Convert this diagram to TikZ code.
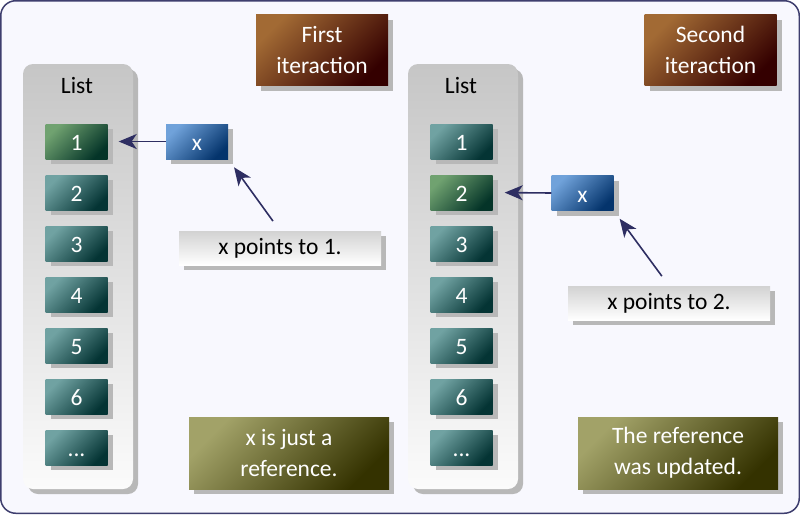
\documentclass[tikz,border=0pt]{standalone}
\usepackage{fontspec}
\setmainfont{Carlito}
\usetikzlibrary{arrows.meta,shadows}
\definecolor{bgcol}{HTML}{F8F8FE}
\definecolor{framecol}{HTML}{3E3E6E}
\definecolor{arrowcol}{HTML}{2E2E62}
\definecolor{panelt}{HTML}{C6C6C6}
\definecolor{panelb}{HTML}{FBFBFB}
\definecolor{teall}{HTML}{70A2A2}
\definecolor{teald}{HTML}{043434}
\definecolor{greenl}{HTML}{70A270}
\definecolor{greend}{HTML}{043428}
\definecolor{bluel}{HTML}{70A2DA}
\definecolor{blued}{HTML}{04346C}
\definecolor{brownl}{HTML}{A26A34}
\definecolor{brownd}{HTML}{340000}
\definecolor{olivel}{HTML}{A2A268}
\definecolor{olived}{HTML}{343200}
\definecolor{capt}{HTML}{D2D2D2}
\newcommand\bigtext{\fontsize{23.5}{31}\selectfont}
\tikzset{
  >={Stealth[length=18pt,width=15pt,inset=5pt]},
  frame/.style={draw=framecol,line width=1.5pt,fill=bgcol,rounded corners=15pt},
  shadowed/.style={drop shadow={shadow xshift=5pt,shadow yshift=-5pt,fill=black!28,opacity=1}},
  panel/.style={shadowed,rounded corners=10pt,top color=panelt,bottom color=panelb,minimum width=110pt,minimum height=425pt,inner sep=0pt},
  box/.style={shadowed,minimum width=62pt,minimum height=35pt,inner sep=0pt,text=white,font=\bigtext,text height=18pt,text depth=0pt},
  item/.style={box,bottom color=teall,top color=teald,shading angle=225},
  hitem/.style={box,bottom color=greenl,top color=greend,shading angle=225},
  ptr/.style={box,bottom color=bluel,top color=blued,shading angle=225},
  header/.style={shadowed,minimum width=132pt,minimum height=71pt,inner sep=0pt,align=center,text=white,font=\bigtext,bottom color=brownl,top color=brownd,shading angle=225},
  note/.style={shadowed,minimum width=200pt,minimum height=72pt,inner sep=0pt,align=center,text=white,font=\bigtext,bottom color=olivel,top color=olived,shading angle=225},
  caption/.style={shadowed,minimum width=202pt,minimum height=34pt,inner sep=0pt,font=\bigtext,top color=capt,bottom color=white},
  title/.style={font=\bigtext,inner sep=0pt},
  link/.style={line width=1.6pt,->,arrowcol}
}
\begin{document}
\begin{tikzpicture}[x=1pt,y=-1pt]
        \useasboundingbox (0,0) rectangle (800,514);
        \draw [frame] (0.75,0.75) rectangle (799.25,513.25);
        \node [panel] (fl) at (78,276.5) {};  \node [title] (flt) at (77,86) {List};
        \node [panel] (sl) at (463,276.5) {}; \node [title] (slt) at (461,86) {List};
        \node [hitem] (f1) at (76.5,141.5) {1};  \node [item] (f2) at (76.5,192.5) {2};  \node [item] (f3) at (76.5,243.5) {3};
        \node [item] (f4) at (76.5,294.5) {4};   \node [item] (f5) at (76.5,345.5) {5};  \node [item] (f6) at (76.5,396.5) {6};
        \node [item] (fd) at (76.5,447.5) {...};
        \node [item] (s1) at (461.5,141.5) {1};  \node [hitem] (s2) at (461.5,192.5) {2};  \node [item] (s3) at (461.5,243.5) {3};
        \node [item] (s4) at (461.5,294.5) {4};  \node [item] (s5) at (461.5,345.5) {5};   \node [item] (s6) at (461.5,396.5) {6};
        \node [item] (sd) at (461.5,447.5) {...};
        \node [ptr] (fx) at (197,141.5) {x};    \node [ptr] (sx) at (582.5,193) {x};
        \node [caption] (fc) at (280,248) {x points to 1.};  \node [caption] (sc) at (669,303) {x points to 2.};
        \node [header] (fh) at (322,50) {First\\iteraction};  \node [header] (sh) at (710.5,50) {Second\\iteraction};
        \node [note] (fn) at (289,453) {x is just a\\reference.};  \node [note] (sn) at (678,453) {The reference\\was updated.};
        \draw [link,shorten >=11pt] (fx.west) -- (f1.east);
        \draw [link,shorten >=12pt] (sx.west) -- (s2.east);
        \draw [link,shorten <=12pt,shorten >=10pt] (fc.north) -- (fx.south east);
        \draw [link,shorten <=12pt,shorten >=10pt] (sc.north) -- (sx.south east);
    \end{tikzpicture}
\end{document}
